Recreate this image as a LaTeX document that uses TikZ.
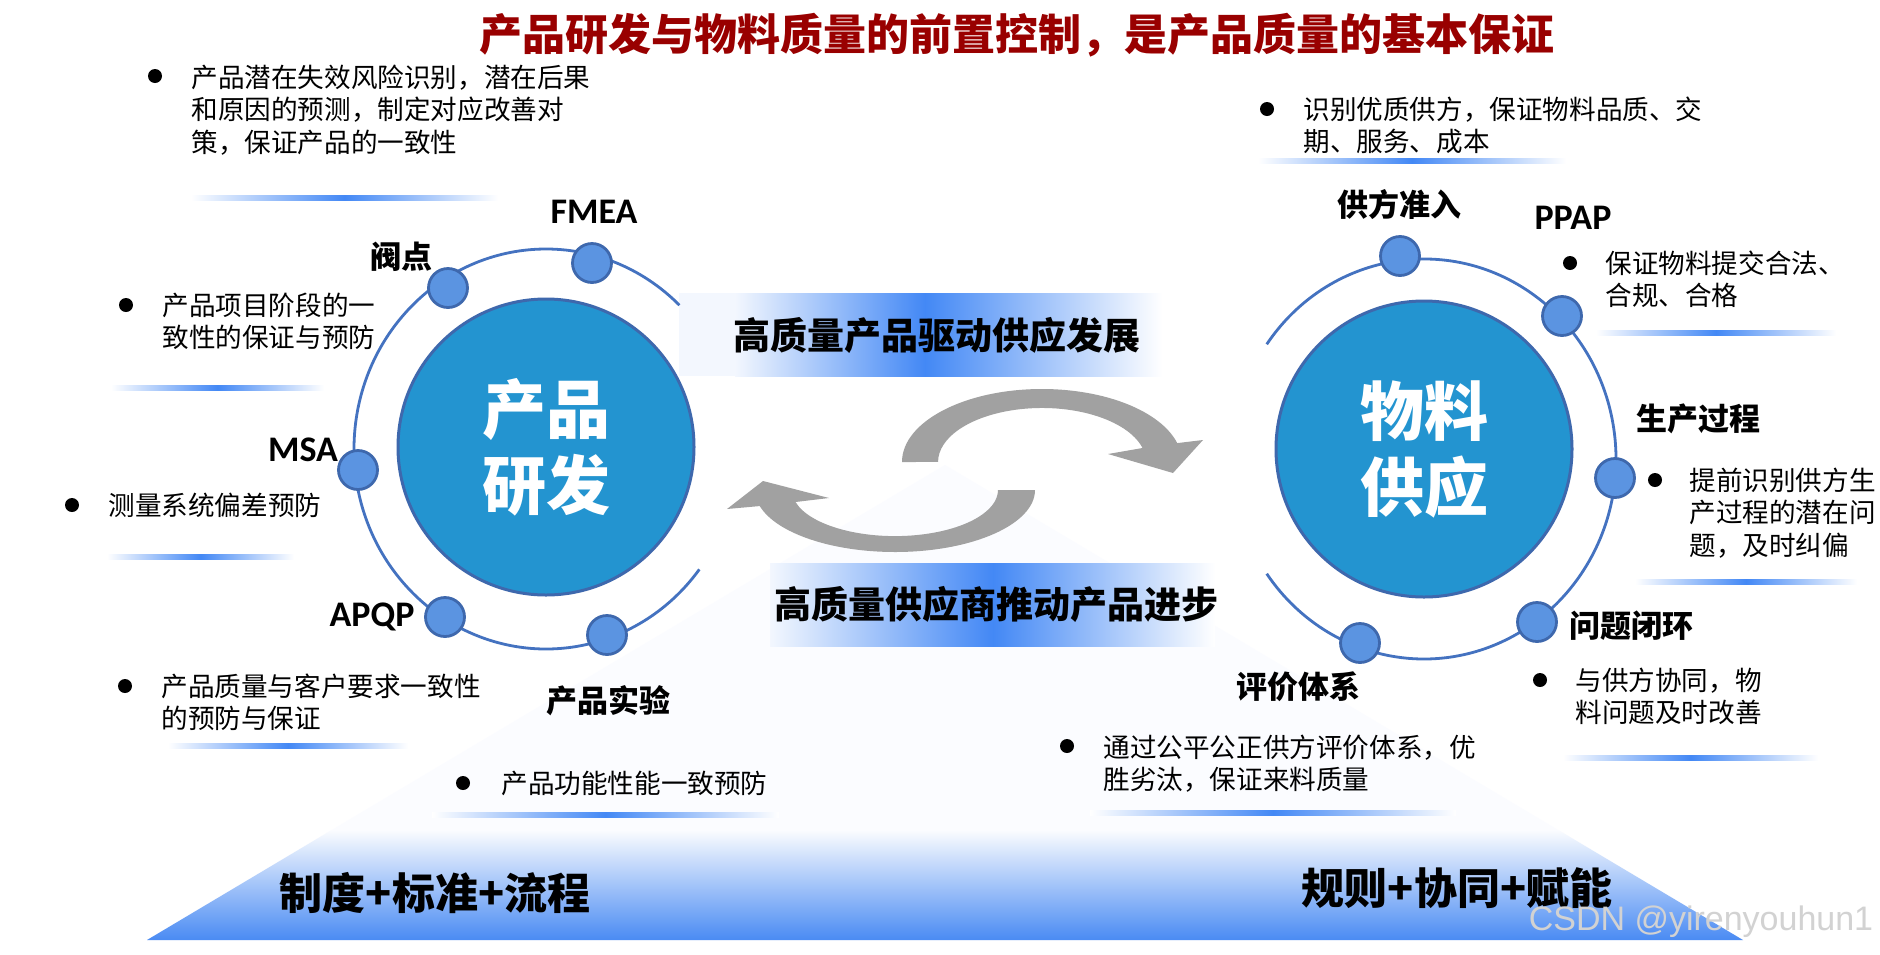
\documentclass[tikz,border=0pt]{standalone}
\usepackage{fontspec}
\setmainfont{Noto Sans CJK SC}
\newfontfamily\latinfont{Carlito}
\newfontfamily\markfont{Liberation Sans}
\usetikzlibrary{positioning,calc}
\definecolor{titlered}{HTML}{990000}
\definecolor{hubblue}{HTML}{2394D0}
\definecolor{hubedge}{HTML}{3E68AD}
\definecolor{ringblue}{HTML}{4472C0}
\definecolor{dotblue}{HTML}{5B94E1}
\definecolor{bandblue}{HTML}{4388F5}
\definecolor{paleblue}{HTML}{F3F7FE}
\definecolor{baseblue}{HTML}{4A8BF3}
\definecolor{arrowgray}{HTML}{A1A1A1}

\begin{document}
\begin{tikzpicture}[x=0.5pt,y=0.5pt,
    hub/.style={circle,draw=hubedge,line width=1.5pt,fill=hubblue,minimum size=148pt,inner sep=0,align=center,text=white,font=\bfseries\fontsize{32}{38}\selectfont},
    ring/.style={draw=ringblue,line width=1.4pt},
    knot/.style={circle,draw=hubedge,line width=1.4pt,fill=dotblue,minimum size=19.5pt,inner sep=0},
    tag/.style={font=\bfseries\fontsize{15.5}{18}\selectfont,inner sep=0},
    ltag/.style={font=\latinfont\bfseries\fontsize{18}{20}\selectfont,inner sep=0},
    note/.style={anchor=base west,inner sep=0,align=left,text width=230pt,font=\fontsize{13.3}{16.3}\selectfont},
    motto/.style={font=\bfseries\fontsize{18.5}{22}\selectfont,inner sep=0},
    pillar/.style={font=\bfseries\fontsize{21.5}{24}\selectfont,inner sep=0},
    rule/.style={left color=white,right color=white,middle color=bandblue}]
  \useasboundingbox (0,0) rectangle (1880,-954);
  \fill[white] (0,0) rectangle (1880,-954);

  % base triangle
  \fill[paleblue!35] (147,-940) -- (945,-465) -- (1743,-940) -- cycle;
  \begin{scope}
    \clip (147,-940) -- (945,-465) -- (1743,-940) -- cycle;
    \shade[top color=paleblue!35,bottom color=baseblue] (0,-830) rectangle (1880,-940);
  \end{scope}

  % bands
  \fill[paleblue] (679,-293) rectangle (735,-376);
  \shade[left color=paleblue,right color=bandblue] (735,-293) rectangle (925,-376);
  \shade[left color=bandblue,right color=white] (925,-293) rectangle (1162,-376);
  \shade[left color=paleblue,right color=bandblue] (770,-563) rectangle (993,-646);
  \shade[left color=bandblue,right color=white] (993,-563) rectangle (1215,-646);
  \node[motto] (up) at (937,-335) {高质量产品驱动供应发展};
  \node[motto] (down) at (996,-604) {高质量供应商推动产品进步};

  % turning arrows
  \fill[arrowgray] (902,-462) arc[start angle=180,end angle=15,x radius=140,y radius=73]
    -- (1203,-440) -- (1173,-473) -- (1108,-454) -- (1142.5,-448)
    arc[start angle=15,end angle=180,x radius=104,y radius=54] -- cycle;
  \fill[arrowgray] (1035,-490) arc[start angle=0,end angle=-165,x radius=140,y radius=62]
    -- (727,-509) -- (763,-481) -- (829,-498) -- (795.5,-502)
    arc[start angle=-165,end angle=0,x radius=103,y radius=46] -- cycle;

  % left hub
  \coordinate (pc) at (546,-449);
  \draw[ring] ([shift={(46:192 and 200)}]pc) arc[start angle=46,end angle=323,x radius=192,y radius=200];
  \node[hub] (prod) at (546,-447) {产品\\研发};
  \node[knot] (kGate) at (448,-288) {};
  \node[knot] (kFmea) at (592,-263) {};
  \node[knot] (kMsa) at (358,-470) {};
  \node[knot] (kApqp) at (445,-617) {};
  \node[knot] (kTest) at (607,-635) {};
  \node[tag] (lGate) at (401,-257) {阀点};
  \node[ltag] (lFmea) at (594,-212) {FMEA};
  \node[ltag] (lMsa) at (303,-450) {MSA};
  \node[ltag] (lApqp) at (372,-617) {APQP};
  \node[tag] (lTest) at (608,-701) {产品实验};

  % right hub
  \coordinate (sc) at (1424,-459);
  \draw[ring] ([shift={(145:192 and 200)}]sc) arc[start angle=145,end angle=-145,x radius=192,y radius=200];
  \node[hub] (supp) at (1424,-449) {物料\\供应};
  \node[knot] (kEntry) at (1400,-256) {};
  \node[knot] (kPpap) at (1562,-316) {};
  \node[knot] (kProc) at (1615,-478) {};
  \node[knot] (kLoop) at (1537,-622) {};
  \node[knot] (kEval) at (1360,-643) {};
  \node[tag] (lEntry) at (1399,-205) {供方准入};
  \node[ltag] (lPpap) at (1573,-218) {PPAP};
  \node[tag] (lProc) at (1698,-419) {生产过程};
  \node[tag] (lLoop) at (1631,-626) {问题闭环};
  \node[tag] (lEval) at (1298,-687) {评价体系};

  % notes
  \foreach \bx/\by in {155/76,126/305,72/505,125/686,463/783,1267/109,1570/263,1655/480,1540/680,1067/746}
    \fill (\bx,-\by) circle (7);
  \node[note] (n1) at (191,-87) {产品潜在失效风险识别，潜在后果\\和原因的预测，制定对应改善对\\策，保证产品的一致性};
  \node[note] (n2) at (162,-315) {产品项目阶段的一\\致性的保证与预防};
  \node[note] (n3) at (108,-515) {测量系统偏差预防};
  \node[note] (n4) at (161,-696) {产品质量与客户要求一致性\\的预防与保证};
  \node[note] (n5) at (501,-793) {产品功能性能一致预防};
  \node[note] (n6) at (1303,-119) {识别优质供方，保证物料品质、交\\期、服务、成本};
  \node[note] (n7) at (1605,-273) {保证物料提交合法、\\合规、合格};
  \node[note] (n8) at (1689,-490) {提前识别供方生\\产过程的潜在问\\题，及时纠偏};
  \node[note] (n9) at (1575,-690) {与供方协同，物\\料问题及时改善};
  \node[note] (n10) at (1103,-757) {通过公平公正供方评价体系，优\\胜劣汰，保证来料质量};
  \foreach \xa/\xb/\yy in {191/498/198,111/324/388,107/294/557,168/408/746,432/779/815,1258/1566/161,1596/1836/333,1635/1857/582,1563/1818/758,1090/1456/813}
    \shade[rule] (\xa,{-\yy+2.5}) rectangle (\xb,{-\yy-2.5});

  % title and base
  \node[font=\bfseries\fontsize{21.5}{24}\selectfont,text=titlered,inner sep=0] (title) at (1017,-35) {产品研发与物料质量的前置控制，是产品质量的基本保证};
  \node[pillar] (rules) at (435,-893) {制度+标准+流程};
  \node[pillar] (power) at (1457,-888) {规则+协同+赋能};
  \node[font=\markfont\fontsize{17}{20}\selectfont,text=gray!35,inner sep=0] (mark) at (1701,-922) {CSDN @yirenyouhun1};
\end{tikzpicture}
\end{document}
